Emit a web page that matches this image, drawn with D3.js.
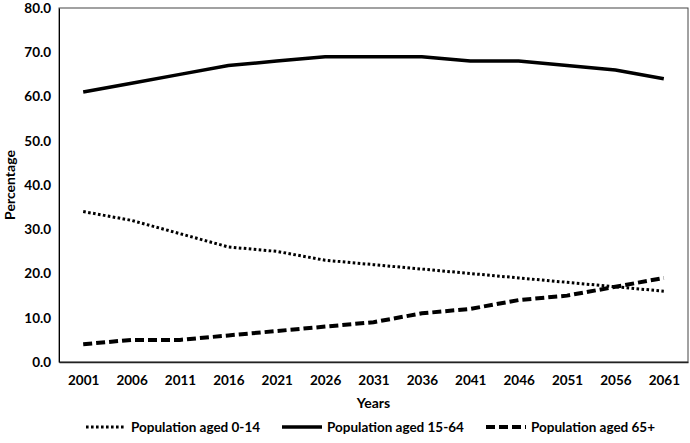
<!DOCTYPE html>
<html><head><meta charset="utf-8">
<script src="https://cdn.jsdelivr.net/npm/d3@7"></script>
<style>body{margin:0;background:#fff}text{font-family:Lato,"Open Sans",sans-serif;font-weight:bold;fill:#000}</style>
</head><body><svg id="c" width="690" height="443"></svg>
<script>
const years = ["2001","2006","2011","2016","2021","2026","2031","2036","2041","2046","2051","2056","2061"];
const aged0_14 = [34,32,29,26,25,23,22,21,20,19,18,17,16];
const aged15_64 = [61,63,65,67,68,69,69,69,68,68,67,66,64];
const aged65p = [4,5,5,6,7,8,9,11,12,14,15,17,19];
const yTicks = [0,10,20,30,40,50,60,70,80];
const seriesNames = ["Population aged 0-14","Population aged 15-64","Population aged 65+"];

const svg = d3.select("#c");
const L=59, R=688, T=8, B=362;
const x = d3.scalePoint().domain(years).range([L,R]).padding(0.5);
const y = d3.scaleLinear().domain([0,80]).range([B,T]);

svg.append("rect").attr("x",L).attr("y",T).attr("width",R-L).attr("height",B-T)
  .attr("fill","none").attr("stroke","#444").attr("stroke-width",1);

const yAxis = svg.append("g").attr("transform",`translate(${L},0)`)
  .call(d3.axisLeft(y).tickValues(yTicks).tickFormat(d3.format(".1f")).tickSize(0).tickPadding(8));
yAxis.select(".domain").attr("stroke","#000");
yAxis.selectAll("text").style("font-size","13.5px");

const xAxis = svg.append("g").attr("transform",`translate(0,${B})`)
  .call(d3.axisBottom(x).tickSize(0).tickPadding(13));
xAxis.select(".domain").attr("stroke","#222").attr("stroke-width",1.6);
xAxis.selectAll("text").style("font-size","13.5px");

svg.append("text").attr("x",(L+R)/2).attr("y",408).attr("text-anchor","middle").style("font-size","14px").text("Years");
svg.append("text").attr("transform",`translate(15,${(T+B)/2}) rotate(-90)`).attr("text-anchor","middle").style("font-size","14px").text("Percentage");

const styles = [
  {w:3, dash:"2.6 2.4"},
  {w:3.5, dash:null},
  {w:4, dash:"9 4"}
];
const data = [aged0_14, aged15_64, aged65p];
const line = d3.line().x((d,i)=>x(years[i])).y(d=>y(d));
data.forEach((s,k)=>{
  svg.append("path").datum(s).attr("d",line).attr("fill","none").attr("stroke","#000")
    .attr("stroke-width",styles[k].w).attr("stroke-dasharray",styles[k].dash);
});

const legX = [86,282,486];
seriesNames.forEach((n,k)=>{
  svg.append("line").attr("x1",legX[k]).attr("x2",legX[k]+40).attr("y1",427).attr("y2",427)
    .attr("stroke","#000").attr("stroke-width",styles[k].w).attr("stroke-dasharray",styles[k].dash);
  svg.append("text").attr("x",legX[k]+45).attr("y",432).style("font-size","13.5px").text(n);
});
</script></body></html>
